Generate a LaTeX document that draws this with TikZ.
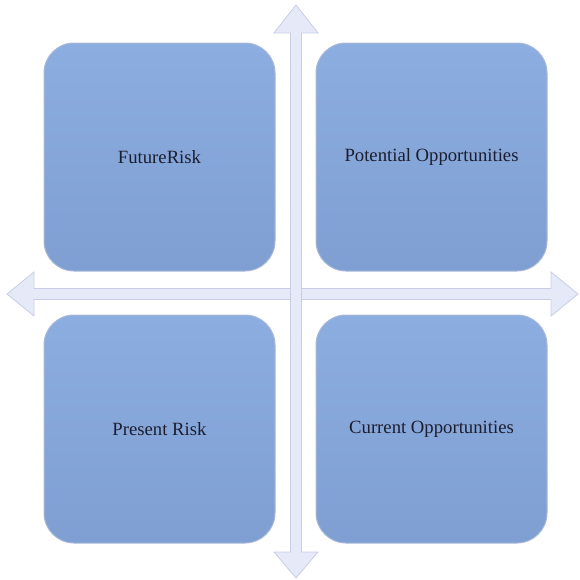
\documentclass[tikz,border=0pt]{standalone}
\usepackage{fontspec}
\setmainfont{Liberation Serif}
\usetikzlibrary{calc,math}

\definecolor{boxtop}{HTML}{8CADE0}
\definecolor{boxbot}{HTML}{7F9FD3}
\definecolor{boxline}{HTML}{A9B9D6}
\definecolor{arrowfill}{HTML}{E6E9F7}
\definecolor{arrowline}{HTML}{C8CDE6}
\definecolor{labeltext}{HTML}{1C1E2E}

\tikzset{
    quad/.style={rounded corners=30pt, minimum width=231pt, minimum height=228pt,
        top color=boxtop, bottom color=boxbot, draw=boxline, line width=1pt,
        text=labeltext, font=\fontsize{18.7}{22}\selectfont, inner sep=0pt},
    axis/.style={fill=arrowfill, draw=arrowline, line width=0.8pt, line join=miter}
}

\begin{document}
\begin{tikzpicture}[x=1pt,y=-1pt]
    \useasboundingbox (0,0) rectangle (580,579);
    \tikzmath{ \cx=296; \cy=294; \w=5.5; \h=22; }
    % the four quadrants
    \node[quad] (future) at (159.5,157) {FutureRisk};
    \node[quad] (potential) at (431.5,157) {Potential Opportunities};
    \node[quad] (present) at (159.5,429) {Present Risk};
    \node[quad] (current) at (431.5,429) {Current Opportunities};
    % horizontal axis
    \coordinate (L) at (7,\cy);
    \coordinate (R) at (578,\cy);
    \draw[axis] (L) -- ($(L)+(27,-\h)$) -- ($(L)+(27,-\w)$) -- ($(R)+(-27,-\w)$)
        -- ($(R)+(-27,-\h)$) -- (R) -- ($(R)+(-27,\h)$) -- ($(R)+(-27,\w)$)
        -- ($(L)+(27,\w)$) -- ($(L)+(27,\h)$) -- cycle;
    % vertical axis
    \coordinate (T) at (\cx,5);
    \coordinate (B) at (\cx,578);
    \draw[axis] (T) -- ($(T)+(\h,28)$) -- ($(T)+(\w,28)$) -- ($(B)+(\w,-26)$)
        -- ($(B)+(\h,-26)$) -- (B) -- ($(B)+(-\h,-26)$) -- ($(B)+(-\w,-26)$)
        -- ($(T)+(-\w,28)$) -- ($(T)+(-\h,28)$) -- cycle;
\end{tikzpicture}
\end{document}
